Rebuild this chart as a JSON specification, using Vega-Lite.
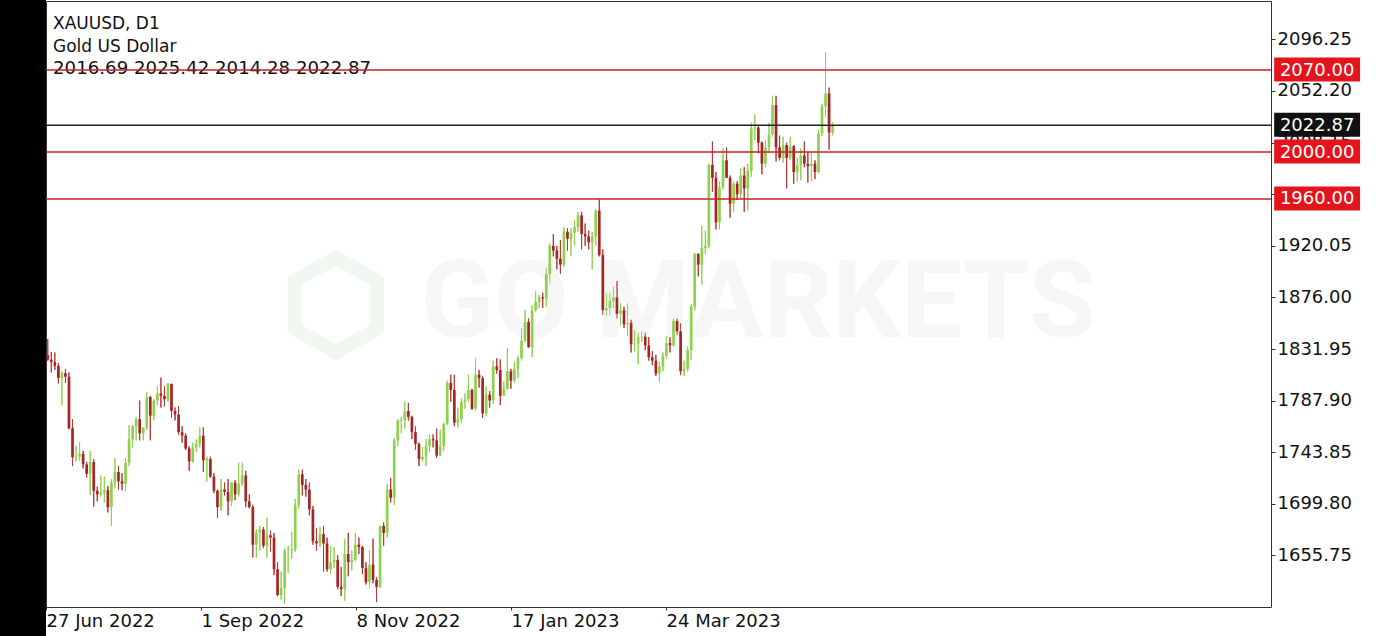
{
  "$schema": "https://vega.github.io/schema/vega-lite/v6.json",
  "width": 1225,
  "height": 606,
  "autosize": {"type": "none"},
  "padding": {"left": 46, "top": 1, "right": 106, "bottom": 29},
  "background": "white",
  "config": {"view": {"stroke": "#333", "strokeWidth": 1}, "font": "DejaVu Sans", "scale": {"continuousPadding": 0}},
  "datasets": {
    "bars": [
      {"i":0,"o":1826.8,"h":1840.4,"l":1822.0,"c":1822.9},
      {"i":1,"o":1822.9,"h":1829.5,"l":1812.0,"c":1820.7},
      {"i":2,"o":1820.7,"h":1829.0,"l":1814.0,"c":1817.6},
      {"i":3,"o":1817.6,"h":1820.0,"l":1802.5,"c":1807.3},
      {"i":4,"o":1807.3,"h":1813.0,"l":1784.0,"c":1811.3},
      {"i":5,"o":1811.3,"h":1815.0,"l":1803.0,"c":1808.3},
      {"i":6,"o":1808.3,"h":1812.0,"l":1763.5,"c":1764.4},
      {"i":7,"o":1764.4,"h":1772.0,"l":1732.0,"c":1739.5},
      {"i":8,"o":1739.5,"h":1749.5,"l":1736.0,"c":1740.0},
      {"i":9,"o":1740.0,"h":1752.5,"l":1736.5,"c":1742.5},
      {"i":10,"o":1742.5,"h":1745.0,"l":1730.0,"c":1733.5},
      {"i":11,"o":1733.5,"h":1735.5,"l":1722.5,"c":1725.5},
      {"i":12,"o":1725.5,"h":1745.0,"l":1707.5,"c":1735.5},
      {"i":13,"o":1735.5,"h":1738.0,"l":1697.5,"c":1711.0},
      {"i":14,"o":1711.0,"h":1714.5,"l":1702.0,"c":1708.0},
      {"i":15,"o":1708.0,"h":1724.0,"l":1706.0,"c":1709.5},
      {"i":16,"o":1709.5,"h":1723.0,"l":1701.0,"c":1711.5},
      {"i":17,"o":1711.5,"h":1715.0,"l":1692.5,"c":1697.0},
      {"i":18,"o":1697.0,"h":1721.0,"l":1681.0,"c":1718.0},
      {"i":19,"o":1718.0,"h":1739.0,"l":1713.0,"c":1727.0},
      {"i":20,"o":1727.0,"h":1732.0,"l":1712.0,"c":1719.0},
      {"i":21,"o":1719.0,"h":1726.0,"l":1711.5,"c":1717.0},
      {"i":22,"o":1717.0,"h":1739.0,"l":1711.0,"c":1735.0},
      {"i":23,"o":1735.0,"h":1767.0,"l":1732.0,"c":1755.0},
      {"i":24,"o":1755.0,"h":1767.0,"l":1748.0,"c":1766.0},
      {"i":25,"o":1766.0,"h":1774.0,"l":1754.0,"c":1772.0},
      {"i":26,"o":1772.0,"h":1788.0,"l":1754.0,"c":1760.0},
      {"i":27,"o":1760.0,"h":1765.0,"l":1754.0,"c":1765.0},
      {"i":28,"o":1765.0,"h":1795.0,"l":1763.0,"c":1791.0},
      {"i":29,"o":1791.0,"h":1792.0,"l":1754.0,"c":1775.0},
      {"i":30,"o":1775.0,"h":1789.0,"l":1771.0,"c":1788.0},
      {"i":31,"o":1788.0,"h":1800.0,"l":1784.0,"c":1794.0},
      {"i":32,"o":1794.0,"h":1807.5,"l":1782.0,"c":1792.0},
      {"i":33,"o":1792.0,"h":1800.0,"l":1783.0,"c":1789.0},
      {"i":34,"o":1789.0,"h":1803.0,"l":1787.0,"c":1802.0},
      {"i":35,"o":1802.0,"h":1802.5,"l":1773.0,"c":1779.0},
      {"i":36,"o":1779.0,"h":1782.0,"l":1771.0,"c":1776.0},
      {"i":37,"o":1776.0,"h":1783.0,"l":1759.0,"c":1761.0},
      {"i":38,"o":1761.0,"h":1766.0,"l":1752.0,"c":1758.0},
      {"i":39,"o":1758.0,"h":1760.0,"l":1746.0,"c":1747.0},
      {"i":40,"o":1747.0,"h":1749.0,"l":1728.0,"c":1736.0},
      {"i":41,"o":1736.0,"h":1752.0,"l":1735.0,"c":1748.0},
      {"i":42,"o":1748.0,"h":1755.0,"l":1744.0,"c":1751.0},
      {"i":43,"o":1751.0,"h":1765.0,"l":1748.0,"c":1758.0},
      {"i":44,"o":1758.0,"h":1765.0,"l":1727.0,"c":1737.0},
      {"i":45,"o":1737.0,"h":1740.0,"l":1719.0,"c":1738.0},
      {"i":46,"o":1738.0,"h":1740.0,"l":1722.0,"c":1723.0},
      {"i":47,"o":1723.0,"h":1726.0,"l":1709.0,"c":1711.0},
      {"i":48,"o":1711.0,"h":1712.0,"l":1688.0,"c":1697.0},
      {"i":49,"o":1697.0,"h":1721.0,"l":1694.0,"c":1712.0},
      {"i":50,"o":1712.0,"h":1718.0,"l":1707.0,"c":1710.0},
      {"i":51,"o":1710.0,"h":1721.0,"l":1690.0,"c":1702.0},
      {"i":52,"o":1702.0,"h":1718.0,"l":1698.0,"c":1718.0},
      {"i":53,"o":1718.0,"h":1720.0,"l":1703.0,"c":1708.0},
      {"i":54,"o":1708.0,"h":1735.0,"l":1706.0,"c":1717.0},
      {"i":55,"o":1717.0,"h":1735.0,"l":1715.0,"c":1724.0},
      {"i":56,"o":1724.0,"h":1728.0,"l":1697.0,"c":1702.0},
      {"i":57,"o":1702.0,"h":1708.0,"l":1696.0,"c":1697.0},
      {"i":58,"o":1697.0,"h":1699.0,"l":1654.0,"c":1665.0},
      {"i":59,"o":1665.0,"h":1678.0,"l":1654.0,"c":1675.0},
      {"i":60,"o":1675.0,"h":1681.0,"l":1660.0,"c":1678.0},
      {"i":61,"o":1678.0,"h":1680.0,"l":1662.0,"c":1664.0},
      {"i":62,"o":1664.0,"h":1688.0,"l":1654.0,"c":1673.0},
      {"i":63,"o":1673.0,"h":1677.0,"l":1659.0,"c":1671.0},
      {"i":64,"o":1671.0,"h":1675.0,"l":1639.0,"c":1644.0},
      {"i":65,"o":1644.0,"h":1650.0,"l":1621.0,"c":1622.0},
      {"i":66,"o":1622.0,"h":1642.0,"l":1618.0,"c":1628.0},
      {"i":67,"o":1628.0,"h":1662.0,"l":1614.8,"c":1660.0},
      {"i":68,"o":1660.0,"h":1664.0,"l":1641.0,"c":1660.0},
      {"i":69,"o":1660.0,"h":1676.0,"l":1653.0,"c":1661.0},
      {"i":70,"o":1661.0,"h":1704.0,"l":1659.0,"c":1699.0},
      {"i":71,"o":1699.0,"h":1729.0,"l":1696.0,"c":1725.0},
      {"i":72,"o":1725.0,"h":1729.0,"l":1707.0,"c":1716.0},
      {"i":73,"o":1716.0,"h":1721.0,"l":1706.0,"c":1712.0},
      {"i":74,"o":1712.0,"h":1718.0,"l":1690.0,"c":1695.0},
      {"i":75,"o":1695.0,"h":1698.0,"l":1665.0,"c":1668.0},
      {"i":76,"o":1668.0,"h":1679.0,"l":1660.0,"c":1666.0},
      {"i":77,"o":1666.0,"h":1680.0,"l":1663.0,"c":1674.0},
      {"i":78,"o":1674.0,"h":1681.0,"l":1642.0,"c":1666.0},
      {"i":79,"o":1666.0,"h":1671.0,"l":1642.0,"c":1644.0},
      {"i":80,"o":1644.0,"h":1664.0,"l":1640.0,"c":1650.0},
      {"i":81,"o":1650.0,"h":1663.0,"l":1645.0,"c":1652.0},
      {"i":82,"o":1652.0,"h":1656.0,"l":1627.0,"c":1629.0},
      {"i":83,"o":1629.0,"h":1646.0,"l":1621.0,"c":1627.0},
      {"i":84,"o":1627.0,"h":1670.0,"l":1617.0,"c":1657.0},
      {"i":85,"o":1657.0,"h":1675.0,"l":1638.0,"c":1650.0},
      {"i":86,"o":1650.0,"h":1660.0,"l":1643.0,"c":1652.0},
      {"i":87,"o":1652.0,"h":1675.0,"l":1651.0,"c":1665.0},
      {"i":88,"o":1665.0,"h":1671.0,"l":1657.0,"c":1663.0},
      {"i":89,"o":1663.0,"h":1664.0,"l":1640.0,"c":1645.0},
      {"i":90,"o":1645.0,"h":1650.0,"l":1631.0,"c":1633.0},
      {"i":91,"o":1633.0,"h":1660.0,"l":1628.0,"c":1648.0},
      {"i":92,"o":1648.0,"h":1670.0,"l":1632.0,"c":1635.0},
      {"i":93,"o":1635.0,"h":1637.0,"l":1616.0,"c":1629.0},
      {"i":94,"o":1629.0,"h":1681.0,"l":1628.0,"c":1681.0},
      {"i":95,"o":1681.0,"h":1684.0,"l":1664.0,"c":1675.0},
      {"i":96,"o":1675.0,"h":1717.0,"l":1671.0,"c":1712.0},
      {"i":97,"o":1712.0,"h":1722.0,"l":1701.0,"c":1705.0},
      {"i":98,"o":1705.0,"h":1756.0,"l":1699.0,"c":1754.0},
      {"i":99,"o":1754.0,"h":1772.0,"l":1749.0,"c":1771.0},
      {"i":100,"o":1771.0,"h":1774.0,"l":1760.0,"c":1771.5},
      {"i":101,"o":1771.5,"h":1787.0,"l":1764.0,"c":1779.0},
      {"i":102,"o":1779.0,"h":1786.0,"l":1771.0,"c":1774.0},
      {"i":103,"o":1774.0,"h":1775.0,"l":1755.0,"c":1761.0},
      {"i":104,"o":1761.0,"h":1766.0,"l":1746.0,"c":1751.0},
      {"i":105,"o":1751.0,"h":1752.0,"l":1732.0,"c":1738.0},
      {"i":106,"o":1738.0,"h":1748.0,"l":1736.0,"c":1740.0},
      {"i":107,"o":1740.0,"h":1755.0,"l":1732.0,"c":1749.0},
      {"i":108,"o":1749.0,"h":1759.0,"l":1744.0,"c":1755.0},
      {"i":109,"o":1755.0,"h":1759.0,"l":1748.0,"c":1754.0},
      {"i":110,"o":1754.0,"h":1764.0,"l":1739.0,"c":1741.0},
      {"i":111,"o":1741.0,"h":1763.0,"l":1741.0,"c":1749.0},
      {"i":112,"o":1749.0,"h":1769.0,"l":1745.0,"c":1768.0},
      {"i":113,"o":1768.0,"h":1805.0,"l":1767.0,"c":1803.0},
      {"i":114,"o":1803.0,"h":1810.0,"l":1787.0,"c":1797.0},
      {"i":115,"o":1797.0,"h":1810.0,"l":1766.0,"c":1769.0},
      {"i":116,"o":1769.0,"h":1782.0,"l":1765.0,"c":1772.0},
      {"i":117,"o":1772.0,"h":1790.0,"l":1769.0,"c":1787.0},
      {"i":118,"o":1787.0,"h":1794.0,"l":1781.0,"c":1789.0},
      {"i":119,"o":1789.0,"h":1810.0,"l":1787.0,"c":1797.0},
      {"i":120,"o":1797.0,"h":1798.0,"l":1780.0,"c":1781.0},
      {"i":121,"o":1781.0,"h":1824.0,"l":1779.0,"c":1810.0},
      {"i":122,"o":1810.0,"h":1814.0,"l":1799.0,"c":1807.0},
      {"i":123,"o":1807.0,"h":1809.0,"l":1773.0,"c":1777.0},
      {"i":124,"o":1777.0,"h":1800.0,"l":1775.0,"c":1793.0},
      {"i":125,"o":1793.0,"h":1796.0,"l":1782.0,"c":1788.0},
      {"i":126,"o":1788.0,"h":1822.0,"l":1785.0,"c":1817.0},
      {"i":127,"o":1817.0,"h":1824.0,"l":1811.0,"c":1814.0},
      {"i":128,"o":1814.0,"h":1823.0,"l":1784.0,"c":1792.0},
      {"i":129,"o":1792.0,"h":1804.0,"l":1792.0,"c":1798.0},
      {"i":130,"o":1798.0,"h":1833.0,"l":1797.0,"c":1813.0},
      {"i":131,"o":1813.0,"h":1815.0,"l":1798.0,"c":1805.0},
      {"i":132,"o":1805.0,"h":1821.0,"l":1803.0,"c":1815.0},
      {"i":133,"o":1815.0,"h":1826.0,"l":1807.0,"c":1824.0},
      {"i":134,"o":1824.0,"h":1850.0,"l":1822.0,"c":1839.0},
      {"i":135,"o":1839.0,"h":1865.0,"l":1838.0,"c":1855.0},
      {"i":136,"o":1855.0,"h":1858.0,"l":1833.0,"c":1833.5},
      {"i":137,"o":1833.5,"h":1869.0,"l":1825.0,"c":1865.0},
      {"i":138,"o":1865.0,"h":1881.0,"l":1864.0,"c":1872.0},
      {"i":139,"o":1872.0,"h":1878.0,"l":1867.0,"c":1876.0},
      {"i":140,"o":1876.0,"h":1880.0,"l":1867.0,"c":1875.0},
      {"i":141,"o":1875.0,"h":1901.0,"l":1868.0,"c":1896.0},
      {"i":142,"o":1896.0,"h":1922.0,"l":1888.0,"c":1920.0},
      {"i":143,"o":1920.0,"h":1930.0,"l":1911.0,"c":1916.0},
      {"i":144,"o":1916.0,"h":1920.0,"l":1900.0,"c":1909.0},
      {"i":145,"o":1909.0,"h":1925.0,"l":1896.0,"c":1904.0},
      {"i":146,"o":1904.0,"h":1936.0,"l":1902.0,"c":1932.0},
      {"i":147,"o":1932.0,"h":1935.0,"l":1916.0,"c":1926.0},
      {"i":148,"o":1926.0,"h":1935.0,"l":1911.0,"c":1931.0},
      {"i":149,"o":1931.0,"h":1942.0,"l":1920.0,"c":1936.0},
      {"i":150,"o":1936.0,"h":1949.0,"l":1932.0,"c":1946.0},
      {"i":151,"o":1946.0,"h":1949.0,"l":1917.0,"c":1930.0},
      {"i":152,"o":1930.0,"h":1939.0,"l":1920.0,"c":1928.0},
      {"i":153,"o":1928.0,"h":1933.0,"l":1917.0,"c":1923.0},
      {"i":154,"o":1923.0,"h":1932.0,"l":1900.0,"c":1928.0},
      {"i":155,"o":1928.0,"h":1951.0,"l":1920.0,"c":1950.0},
      {"i":156,"o":1950.0,"h":1959.7,"l":1911.0,"c":1912.0},
      {"i":157,"o":1912.0,"h":1917.0,"l":1861.0,"c":1865.0},
      {"i":158,"o":1865.0,"h":1880.0,"l":1860.0,"c":1867.0},
      {"i":159,"o":1867.0,"h":1880.0,"l":1861.0,"c":1873.0},
      {"i":160,"o":1873.0,"h":1885.0,"l":1867.0,"c":1876.0},
      {"i":161,"o":1876.0,"h":1890.0,"l":1858.0,"c":1862.0},
      {"i":162,"o":1862.0,"h":1871.0,"l":1852.0,"c":1865.0},
      {"i":163,"o":1865.0,"h":1868.0,"l":1850.0,"c":1853.0},
      {"i":164,"o":1853.0,"h":1871.0,"l":1843.0,"c":1854.0},
      {"i":165,"o":1854.0,"h":1857.0,"l":1829.0,"c":1836.0},
      {"i":166,"o":1836.0,"h":1848.0,"l":1830.0,"c":1836.5},
      {"i":167,"o":1836.5,"h":1846.0,"l":1819.0,"c":1842.0},
      {"i":168,"o":1842.0,"h":1847.0,"l":1838.0,"c":1842.5},
      {"i":169,"o":1842.5,"h":1846.0,"l":1831.0,"c":1835.0},
      {"i":170,"o":1835.0,"h":1842.0,"l":1822.0,"c":1825.0},
      {"i":171,"o":1825.0,"h":1830.0,"l":1818.0,"c":1822.0},
      {"i":172,"o":1822.0,"h":1827.0,"l":1809.0,"c":1811.0},
      {"i":173,"o":1811.0,"h":1821.0,"l":1804.0,"c":1817.0},
      {"i":174,"o":1817.0,"h":1829.0,"l":1813.0,"c":1826.0},
      {"i":175,"o":1826.0,"h":1843.0,"l":1824.0,"c":1837.0},
      {"i":176,"o":1837.0,"h":1842.0,"l":1829.0,"c":1835.0},
      {"i":177,"o":1835.0,"h":1858.0,"l":1834.0,"c":1856.0},
      {"i":178,"o":1856.0,"h":1858.0,"l":1844.0,"c":1847.0},
      {"i":179,"o":1847.0,"h":1854.0,"l":1810.0,"c":1813.0},
      {"i":180,"o":1813.0,"h":1822.0,"l":1809.0,"c":1815.0},
      {"i":181,"o":1815.0,"h":1834.0,"l":1813.0,"c":1831.0},
      {"i":182,"o":1831.0,"h":1870.0,"l":1823.0,"c":1868.0},
      {"i":183,"o":1868.0,"h":1914.0,"l":1865.0,"c":1913.0},
      {"i":184,"o":1913.0,"h":1913.5,"l":1894.0,"c":1904.0},
      {"i":185,"o":1904.0,"h":1937.0,"l":1887.0,"c":1918.0},
      {"i":186,"o":1918.0,"h":1933.0,"l":1913.0,"c":1920.0},
      {"i":187,"o":1920.0,"h":1990.0,"l":1918.0,"c":1989.0},
      {"i":188,"o":1989.0,"h":2009.0,"l":1966.0,"c":1978.0},
      {"i":189,"o":1978.0,"h":1983.0,"l":1934.0,"c":1940.0},
      {"i":190,"o":1940.0,"h":1975.0,"l":1934.0,"c":1970.0},
      {"i":191,"o":1970.0,"h":2003.0,"l":1968.0,"c":1993.0},
      {"i":192,"o":1993.0,"h":2004.0,"l":1979.0,"c":1978.0},
      {"i":193,"o":1978.0,"h":1980.0,"l":1944.0,"c":1956.0},
      {"i":194,"o":1956.0,"h":1975.0,"l":1949.0,"c":1973.0},
      {"i":195,"o":1973.0,"h":1975.0,"l":1959.0,"c":1964.0},
      {"i":196,"o":1964.0,"h":1986.0,"l":1960.0,"c":1980.0},
      {"i":197,"o":1980.0,"h":1987.0,"l":1949.0,"c":1969.0},
      {"i":198,"o":1969.0,"h":1990.0,"l":1950.0,"c":1984.0},
      {"i":199,"o":1984.0,"h":2025.0,"l":1979.0,"c":2020.0},
      {"i":200,"o":2020.0,"h":2032.0,"l":2010.0,"c":2021.0},
      {"i":201,"o":2021.0,"h":2022.0,"l":1999.0,"c":2008.0},
      {"i":202,"o":2008.0,"h":2009.0,"l":1981.0,"c":1990.0},
      {"i":203,"o":1990.0,"h":2010.0,"l":1987.0,"c":2004.0},
      {"i":204,"o":2004.0,"h":2025.0,"l":1999.0,"c":2015.0},
      {"i":205,"o":2015.0,"h":2048.0,"l":2013.0,"c":2040.0},
      {"i":206,"o":2040.0,"h":2048.0,"l":1992.0,"c":2004.0},
      {"i":207,"o":2004.0,"h":2014.0,"l":1993.0,"c":1995.0},
      {"i":208,"o":1995.0,"h":2013.0,"l":1991.0,"c":2006.0},
      {"i":209,"o":2006.0,"h":2008.0,"l":1969.0,"c":1995.0},
      {"i":210,"o":1995.0,"h":2013.0,"l":1993.0,"c":2005.0},
      {"i":211,"o":2005.0,"h":2006.0,"l":1973.0,"c":1983.0},
      {"i":212,"o":1983.0,"h":1995.0,"l":1975.0,"c":1989.0},
      {"i":213,"o":1989.0,"h":2003.0,"l":1976.0,"c":1997.0},
      {"i":214,"o":1997.0,"h":2009.0,"l":1987.0,"c":1990.0},
      {"i":215,"o":1990.0,"h":2000.0,"l":1974.0,"c":1988.0},
      {"i":216,"o":1988.0,"h":2000.0,"l":1975.0,"c":1990.0},
      {"i":217,"o":1990.0,"h":1993.0,"l":1977.0,"c":1983.0},
      {"i":218,"o":1983.0,"h":2019.0,"l":1982.0,"c":2016.0},
      {"i":219,"o":2016.0,"h":2041.0,"l":2014.0,"c":2039.0},
      {"i":220,"o":2039.0,"h":2085.0,"l":2030.0,"c":2050.0},
      {"i":221,"o":2050.0,"h":2055.0,"l":2002.0,"c":2016.7},
      {"i":222,"o":2016.69,"h":2025.42,"l":2014.28,"c":2022.87}
    ],
    "levels": [
      {"level": 2070, "label": "2070.00", "kind": "red"},
      {"level": 2022.87, "label": "2022.87", "kind": "black"},
      {"level": 2000, "label": "2000.00", "kind": "red"},
      {"level": 1960, "label": "1960.00", "kind": "red"}
    ],
    "header": [
      {"sym": "XAUUSD, D1", "name": "Gold US Dollar", "ohlc": "2016.69 2025.42 2014.28 2022.87"}
    ]
  },
  "layer": [
    {
      "data": {"name": "bars"},
      "mark": {"type": "rule", "strokeWidth": 1},
      "encoding": {
        "x": {"field": "i", "type": "quantitative", "scale": {"domain": [-0.5, 346], "nice": false, "zero": false, "padding": 0},
          "axis": {"title": null, "orient": "bottom", "values": [-0.5, 43.35, 87.2, 131.05, 174.9],
            "labelExpr": "datum.value < 0 ? '27 Jun 2022' : datum.value < 50 ? '1 Sep 2022' : datum.value < 100 ? '8 Nov 2022' : datum.value < 150 ? '17 Jan 2023' : '24 Mar 2023'",
            "labelAlign": "left", "labelFont": "DejaVu Sans", "labelFontSize": 18, "labelColor": "#111", "labelPadding": 2,
            "tickSize": 3, "tickColor": "#333", "domain": false, "grid": false, "labelOverlap": false, "labelFlush": false, "labelBound": false}},
        "y": {"field": "l", "type": "quantitative", "scale": {"domain": [1611.8, 2128.9], "nice": false, "zero": false, "padding": 0},
          "axis": {"title": null, "orient": "right", "values": [1655.75, 1699.8, 1743.85, 1787.9, 1831.95, 1876, 1920.05, 1964.1, 2008.15, 2052.2, 2096.25],
            "format": ".2f", "labelFont": "DejaVu Sans", "labelFontSize": 18, "labelColor": "#111", "labelPadding": 2,
            "tickSize": 4, "tickColor": "#333", "domain": false, "grid": false, "labelOverlap": false, "labelFlush": false, "labelBound": false}},
        "y2": {"field": "h"},
        "color": {"condition": {"test": "datum.c >= datum.o", "value": "#8fd14f"}, "value": "#b23a3a"}
      }
    },
    {
      "data": {"values": [{"t": "GO MARKETS"}]},
      "mark": {"type": "text", "font": "Roboto", "fontWeight": "bold", "fontSize": 108, "color": "#f6f6f6", "align": "center", "baseline": "middle"},
      "encoding": {
        "x": {"datum": 200.9, "type": "quantitative", "scale": {"domain": [-0.5, 346], "nice": false, "zero": false, "padding": 0}},
        "y": {"datum": 1869.5, "type": "quantitative", "scale": {"domain": [1611.8, 2128.9], "nice": false, "zero": false, "padding": 0}},
        "text": {"field": "t"}
      }
    },
    {
      "data": {"values": [{"t": "logo"}]},
      "mark": {"type": "point", "shape": "M0,-1L0.87,-0.5L0.87,0.5L0,1L-0.87,0.5L-0.87,-0.5Z", "filled": false, "strokeWidth": 14, "color": "#f1f7f1", "size": 9000, "opacity": 1},
      "encoding": {
        "x": {"datum": 81.5, "type": "quantitative", "scale": {"domain": [-0.5, 346], "nice": false, "zero": false, "padding": 0}},
        "y": {"datum": 1869.5, "type": "quantitative", "scale": {"domain": [1611.8, 2128.9], "nice": false, "zero": false, "padding": 0}}
      }
    },
    {
      "data": {"name": "bars"},
      "mark": {"type": "rule", "strokeWidth": 1},
      "encoding": {
        "x": {"field": "i", "type": "quantitative", "scale": {"domain": [-0.5, 346], "nice": false, "zero": false, "padding": 0}},
        "y": {"field": "l", "type": "quantitative", "scale": {"domain": [1611.8, 2128.9], "nice": false, "zero": false, "padding": 0}},
        "y2": {"field": "h"},
        "color": {"condition": {"test": "datum.c >= datum.o", "value": "#8fd14f"}, "value": "#b23a3a"}
      }
    },
    {
      "data": {"name": "bars"},
      "mark": {"type": "bar", "width": 2.7},
      "encoding": {
        "x": {"field": "i", "type": "quantitative", "scale": {"domain": [-0.5, 346], "nice": false, "zero": false, "padding": 0}},
        "y": {"field": "o", "type": "quantitative", "scale": {"domain": [1611.8, 2128.9], "nice": false, "zero": false, "padding": 0}},
        "y2": {"field": "c"},
        "color": {"condition": {"test": "datum.c >= datum.o", "value": "#8fd14f"}, "value": "#a52525"}
      }
    },
    {
      "data": {"name": "header"},
      "mark": {"type": "text", "font": "DejaVu Sans", "fontSize": 17, "color": "#111", "align": "left", "baseline": "alphabetic"},
      "encoding": {
        "x": {"datum": 1.48, "type": "quantitative", "scale": {"domain": [-0.5, 346], "nice": false, "zero": false, "padding": 0}},
        "y": {"datum": 2105.0, "type": "quantitative", "scale": {"domain": [1611.8, 2128.9], "nice": false, "zero": false, "padding": 0}},
        "text": {"field": "sym"}
      }
    },
    {
      "data": {"name": "header"},
      "mark": {"type": "text", "font": "DejaVu Sans", "fontSize": 17, "color": "#111", "align": "left", "baseline": "alphabetic"},
      "encoding": {
        "x": {"datum": 1.48, "type": "quantitative", "scale": {"domain": [-0.5, 346], "nice": false, "zero": false, "padding": 0}},
        "y": {"datum": 2085.1, "type": "quantitative", "scale": {"domain": [1611.8, 2128.9], "nice": false, "zero": false, "padding": 0}},
        "text": {"field": "name"}
      }
    },
    {
      "data": {"name": "header"},
      "mark": {"type": "text", "font": "DejaVu Sans", "fontSize": 18.2, "color": "#111", "align": "left", "baseline": "alphabetic"},
      "encoding": {
        "x": {"datum": 1.48, "type": "quantitative", "scale": {"domain": [-0.5, 346], "nice": false, "zero": false, "padding": 0}},
        "y": {"datum": 2066.6, "type": "quantitative", "scale": {"domain": [1611.8, 2128.9], "nice": false, "zero": false, "padding": 0}},
        "text": {"field": "ohlc"}
      }
    },
    {
      "data": {"name": "levels"},
      "mark": {"type": "rule", "strokeWidth": 1.5},
      "encoding": {
        "y": {"field": "level", "type": "quantitative", "scale": {"domain": [1611.8, 2128.9], "nice": false, "zero": false, "padding": 0}},
        "color": {"condition": {"test": "datum.kind == 'black'", "value": "#222222"}, "value": "#c9202a"}
      }
    },
    {
      "data": {"name": "levels"},
      "mark": {"type": "rect", "yOffset": -12.5, "y2Offset": 11.5},
      "encoding": {
        "x": {"datum": 346.9, "type": "quantitative", "scale": {"domain": [-0.5, 346], "nice": false, "zero": false, "padding": 0}},
        "x2": {"datum": 371.2},
        "y": {"field": "level", "type": "quantitative", "scale": {"domain": [1611.8, 2128.9], "nice": false, "zero": false, "padding": 0}},
        "y2": {"field": "level"},
        "color": {"condition": {"test": "datum.kind == 'black'", "value": "#111111"}, "value": "#e3141c"}
      }
    },
    {
      "data": {"name": "levels"},
      "mark": {"type": "text", "font": "DejaVu Sans", "fontSize": 18, "color": "white", "align": "center", "baseline": "middle", "dy": 0.5},
      "encoding": {
        "x": {"datum": 359.05, "type": "quantitative", "scale": {"domain": [-0.5, 346], "nice": false, "zero": false, "padding": 0}},
        "y": {"field": "level", "type": "quantitative", "scale": {"domain": [1611.8, 2128.9], "nice": false, "zero": false, "padding": 0}},
        "text": {"field": "label"}
      }
    },
    {
      "data": {"values": [{"t": "strip"}]},
      "mark": {"type": "rect", "color": "black"},
      "encoding": {
        "x": {"datum": -25, "type": "quantitative", "scale": {"domain": [-0.5, 346], "nice": false, "zero": false, "padding": 0}},
        "x2": {"datum": -0.5},
        "y": {"datum": 1400, "type": "quantitative", "scale": {"domain": [1611.8, 2128.9], "nice": false, "zero": false, "padding": 0}},
        "y2": {"datum": 2300}
      }
    }
  ]
}
